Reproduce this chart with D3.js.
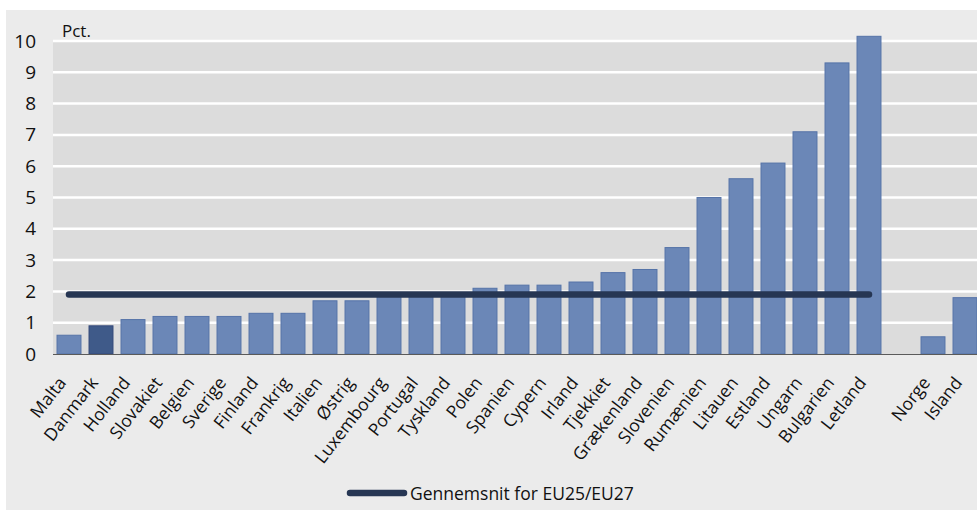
<!DOCTYPE html>
<html>
<head>
<meta charset="utf-8">
<script src="https://cdn.jsdelivr.net/npm/d3@7"></script>
<style>
  body { margin: 0; background: #fff; }
  text { font-family: "Open Sans", sans-serif; fill: #111; }
</style>
</head>
<body>
<div id="chart"></div>
<script>
// chart data
var euCountries = ["Malta", "Danmark", "Holland", "Slovakiet", "Belgien", "Sverige", "Finland", "Frankrig",
    "Italien", "Østrig", "Luxembourg", "Portugal", "Tyskland", "Polen", "Spanien", "Cypern", "Irland",
    "Tjekkiet", "Grækenland", "Slovenien", "Rumænien", "Litauen", "Estland", "Ungarn", "Bulgarien", "Letland"];
var euValues = [0.6, 0.9, 1.1, 1.2, 1.2, 1.2, 1.3, 1.3, 1.7, 1.7, 1.9, 1.9, 1.9, 2.1, 2.2, 2.2, 2.3,
    2.6, 2.7, 3.4, 5.0, 5.6, 6.1, 7.1, 9.3, 10.15];
var otherCountries = ["Norge", "Island"];
var otherValues = [0.55, 1.8];
var euAverage = 1.9;
var yTicks = [0, 1, 2, 3, 4, 5, 6, 7, 8, 9, 10];
var highlight = "Danmark";
var legendLabel = "Gennemsnit for EU25/EU27";
var unitLabel = "Pct.";

// svg size and margins
var svgWidth = 977;
var svgHeight = 510;

var margin = {
    top: 41,
    right: -4,
    left: 53,
    bottom: 156
};

var width = svgWidth - margin.left - margin.right;
var height = svgHeight - margin.top - margin.bottom;

var svg = d3.select("#chart").append("svg").attr("width", svgWidth).attr("height", svgHeight);

// outer panel
svg.append("rect")
    .attr("x", 6).attr("y", 10)
    .attr("width", svgWidth - 6).attr("height", svgHeight - 10)
    .attr("fill", "#ebebeb");

var chartGroup = svg.append("g")
    .attr("transform", `translate(${margin.left}, ${margin.top})`);

// one empty slot between EU and the others
var domain = euCountries.concat(["gap"], otherCountries);
var rows = euCountries.map((c, i) => ({name: c, value: euValues[i]}))
    .concat(otherCountries.map((c, i) => ({name: c, value: otherValues[i]})));

var xBandScale = d3.scaleBand()
    .domain(domain)
    .range([0, width])
    .paddingInner(0.22)
    .paddingOuter(0.11);

var yLinearScale = d3.scaleLinear()
    .domain([0, 10])
    .range([height, 0]);

// plot background
chartGroup.append("rect")
    .attr("width", width).attr("height", height)
    .attr("fill", "#dcdcdc");

// gridlines
chartGroup.selectAll(".grid")
    .data(yTicks.slice(1))
    .enter()
    .append("line")
    .attr("x1", 0).attr("x2", width)
    .attr("y1", d => yLinearScale(d)).attr("y2", d => yLinearScale(d))
    .attr("stroke", "#fff")
    .attr("stroke-width", 2.5);

// bars
chartGroup.selectAll(".bar")
    .data(rows)
    .enter()
    .append("rect")
    .attr("x", d => xBandScale(d.name) + 0.5)
    .attr("y", d => yLinearScale(d.value))
    .attr("width", xBandScale.bandwidth() - 1)
    .attr("height", d => height - yLinearScale(d.value))
    .attr("fill", d => d.name === highlight ? "#3f5a89" : "#6b87b7")
    .attr("stroke", d => d.name === highlight ? "#34497a" : "#5573a8")
    .attr("stroke-width", 1);

// baseline
chartGroup.append("line")
    .attr("x1", 0).attr("x2", width)
    .attr("y1", height + 0.5).attr("y2", height + 0.5)
    .attr("stroke", "#5a5a5a")
    .attr("stroke-width", 1.2);

// EU average line
var half = xBandScale.bandwidth() / 2;
chartGroup.append("line")
    .attr("x1", xBandScale(euCountries[0]) + half)
    .attr("x2", xBandScale(euCountries[euCountries.length - 1]) + half)
    .attr("y1", yLinearScale(euAverage)).attr("y2", yLinearScale(euAverage))
    .attr("stroke", "#263653")
    .attr("stroke-width", 6.5)
    .attr("stroke-linecap", "round");

// y axis labels
var leftAxis = d3.axisLeft(yLinearScale).tickValues(yTicks).tickSize(0).tickPadding(17);
var yAxis = chartGroup.append("g").call(leftAxis);
yAxis.select(".domain").remove();
yAxis.selectAll("text")
    .attr("font-family", "Open Sans, sans-serif")
    .attr("font-size", 19)
    .attr("fill", "#111");

chartGroup.append("text")
    .attr("x", 9).attr("y", -4)
    .attr("font-size", 17)
    .text(unitLabel);

// x axis labels
var bottomAxis = d3.axisBottom(xBandScale).tickSize(0).tickFormat(d => d === "gap" ? "" : d);
var xAxis = chartGroup.append("g")
    .attr("transform", `translate(0, ${height})`)
    .call(bottomAxis);
xAxis.select(".domain").remove();
xAxis.selectAll("text")
    .attr("font-family", "Open Sans, sans-serif")
    .attr("font-size", 17.5)
    .attr("fill", "#111")
    .attr("text-anchor", "end")
    .attr("y", 0)
    .attr("dy", 0)
    .attr("transform", "translate(-2, 29) rotate(-52)");

// legend
var legend = svg.append("g").attr("transform", "translate(350, 493)");
legend.append("line")
    .attr("x1", 0).attr("x2", 54)
    .attr("stroke", "#263653")
    .attr("stroke-width", 6.5)
    .attr("stroke-linecap", "round");
legend.append("text")
    .attr("x", 60).attr("y", 7)
    .attr("font-size", 17.5)
    .text(legendLabel);
</script>
</body>
</html>
